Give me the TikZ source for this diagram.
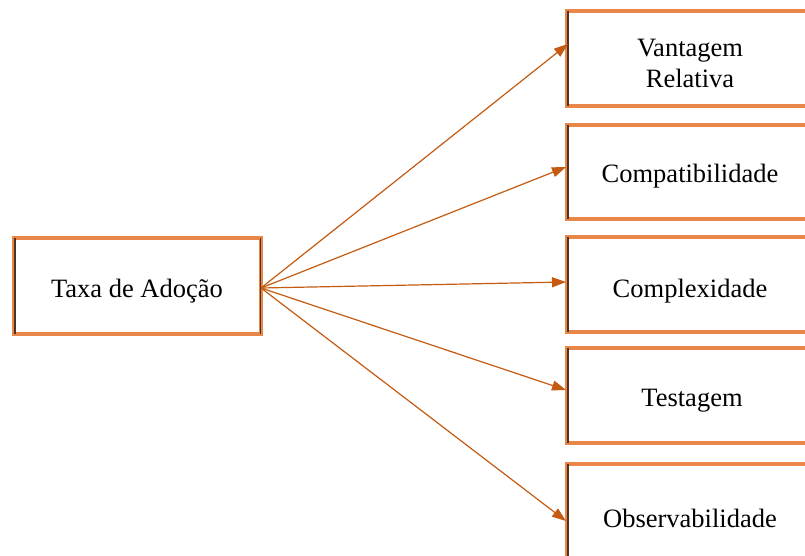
\documentclass[tikz,border=0pt]{standalone}
\usepackage{fontspec}
\setmainfont{Liberation Serif}
\usetikzlibrary{arrows.meta}
\definecolor{boxedge}{RGB}{232,135,72}
\definecolor{boxside}{RGB}{80,50,30}
\definecolor{arrowc}{RGB}{197,90,17}
\tikzset{
  x=1pt, y=-1pt,
  lbl/.style={font=\fontsize{26.5}{31}\selectfont, align=center, inner sep=0pt},
  link/.style={draw=arrowc, line width=1.2pt, -{Triangle[length=14pt,width=10pt]}},
}
\newcommand{\factorbox}[5]{%
  % #1 name, #2 left, #3 top, #4 right, #5 bottom
  \draw[boxedge, line width=3.2pt] (#2,#3) rectangle (#4,#5);
  \draw[boxside, line width=1.4pt] (#2+0.8,#3) -- (#2+0.8,#5);
  \draw[boxside, line width=1.4pt] (#4-0.8,#3) -- (#4-0.8,#5);
  \coordinate (#1-w) at (#2,{(#3+#5)/2});
  \coordinate (#1-e) at (#4,{(#3+#5)/2});
}
\begin{document}
\begin{tikzpicture}
\useasboundingbox (0,0) rectangle (805,556);

% source box
\factorbox{src}{14}{238}{261}{334}
\node[lbl] (srct) at (137,291) {Taxa de Adoção};

% attribute boxes (they run off the right edge)
\factorbox{b1}{567}{11}{820}{106}
\factorbox{b2}{567}{125}{820}{219}
\factorbox{b3}{567}{237}{820}{332}
\factorbox{b4}{567}{348}{820}{443}
\factorbox{b5}{567}{464}{820}{580}

\node[lbl] (t1) at (690,63) {Vantagem\\Relativa};
\node[lbl] (t2) at (690,176) {Compatibilidade};
\node[lbl] (t3) at (690,291) {Complexidade};
\node[lbl] (t4) at (692,401) {Testagem};
\node[lbl] (t5) at (690,518) {Observabilidade};

% arrow end points on the left sides
\coordinate (a1) at (568,44);
\coordinate (a2) at (566,167);
\coordinate (a3) at (566,282);
\coordinate (a4) at (566,390);
\coordinate (a5) at (566,521);
\coordinate (o) at (261,288);

\foreach \k in {1,...,5}{
  \draw[link] (o) -- (a\k);
}
\end{tikzpicture}
\end{document}
